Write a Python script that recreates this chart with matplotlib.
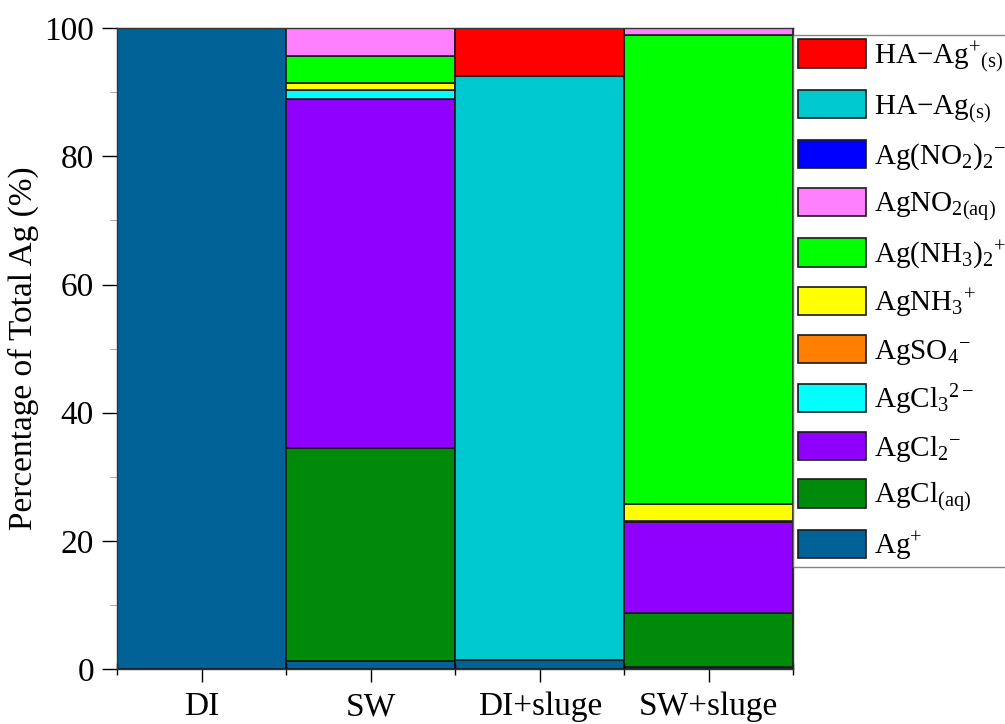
import numpy as np
import matplotlib
matplotlib.use("Agg")
import matplotlib.pyplot as plt
from matplotlib.ticker import FixedLocator

plt.rcParams['font.family'] = ['Liberation Serif', 'DejaVu Serif']
plt.rcParams['mathtext.fontset'] = 'custom'
plt.rcParams['mathtext.rm'] = 'Liberation Serif'
plt.rcParams['mathtext.it'] = 'Liberation Serif:italic'
plt.rcParams['mathtext.bf'] = 'Liberation Serif:bold'

categories = ['DI', 'SW', 'DI+sluge', 'SW+sluge']

# species, bottom -> top of each stack
species = ['Ag$^{+}$', 'AgCl$_{\\rm (aq)}$', 'AgCl$_2{}^{-}$', 'AgCl$_3{}^{2-}$',
           'AgSO$_4{}^{-}$', 'AgNH$_3{}^{+}$', 'Ag(NH$_3$)$_2{}^{+}$',
           'AgNO$_{2\\rm (aq)}$', 'Ag(NO$_2$)$_2{}^{-}$',
           'HA\u2212Ag$_{\\rm (s)}$', 'HA\u2212Ag$^{+}{}_{\\rm (s)}$']
colors = ['#006296', '#008A0A', '#8F00FF', '#00FFFF', '#FF8000', '#FFFF00',
          '#00FF00', '#FF80FF', '#0000FF', '#00C8CF', '#FF0000']

ag_plus   = [100.0, 1.3, 1.4, 0.3]
agcl_aq   = [0.0, 33.2, 0.0, 8.5]
agcl2     = [0.0, 54.5, 0.0, 14.1]
agcl3     = [0.0, 1.3, 0.0, 0.2]
agso4     = [0.0, 0.0, 0.0, 0.0]
agnh3     = [0.0, 1.2, 0.0, 2.7]
ag_nh3_2  = [0.0, 4.2, 0.0, 73.1]
agno2_aq  = [0.0, 4.3, 0.0, 1.1]
ag_no2_2  = [0.0, 0.0, 0.0, 0.0]
ha_ag     = [0.0, 0.0, 91.2, 0.0]
ha_ag_pl  = [0.0, 0.0, 7.4, 0.0]

series = [ag_plus, agcl_aq, agcl2, agcl3, agso4, agnh3, ag_nh3_2,
          agno2_aq, ag_no2_2, ha_ag, ha_ag_pl]

fig = plt.figure(figsize=(10.05, 7.24), dpi=100)
ax = fig.add_axes([0.1164, 0.076, 0.673, 0.885])

x = np.arange(len(categories))
bottom = np.zeros(len(categories))
handles = []
for vals, lab, c in zip(series, species, colors):
    vals = np.array(vals)
    b = ax.bar(x, vals, width=1.0, bottom=bottom, color=c, edgecolor='#1a1a1a',
               linewidth=1.2, label=lab)
    handles.append(b)
    bottom += vals

ax.set_xlim(-0.5, 3.5)
ax.set_ylim(0, 100)
ax.set_xticks(x)
ax.set_xticklabels(categories)
ax.xaxis.set_minor_locator(FixedLocator([-0.5, 0.5, 1.5, 2.5, 3.5]))
ax.set_yticks([0, 20, 40, 60, 80, 100])
ax.yaxis.set_minor_locator(FixedLocator([10, 30, 50, 70, 90]))
ax.tick_params(axis='x', which='major', direction='out', length=9.5, width=1,
               labelsize=24, pad=7)
ax.tick_params(axis='y', which='major', direction='out', length=10.5, width=1,
               labelsize=24, pad=6)
ax.tick_params(axis='x', which='minor', direction='inout', length=8, width=1)
ax.tick_params(axis='y', which='minor', direction='out', length=5, width=0.6,
               color='#999999')
ax.set_ylabel('Percentage of Total Ag (%)', fontsize=24, labelpad=4)
for s in ax.spines.values():
    s.set_color('#333333')
    s.set_linewidth(1)

leg = ax.legend(handles[::-1], species[::-1], loc='upper left',
                bbox_to_anchor=(1.0, 0.99), fontsize=21, frameon=True,
                fancybox=False, edgecolor='#666666', borderaxespad=0,
                handlelength=2.35, handleheight=1.13, handletextpad=0.25,
                labelspacing=0.52, borderpad=0.15)
leg.get_frame().set_linewidth(1)

fig.savefig('out.png', dpi=100)
